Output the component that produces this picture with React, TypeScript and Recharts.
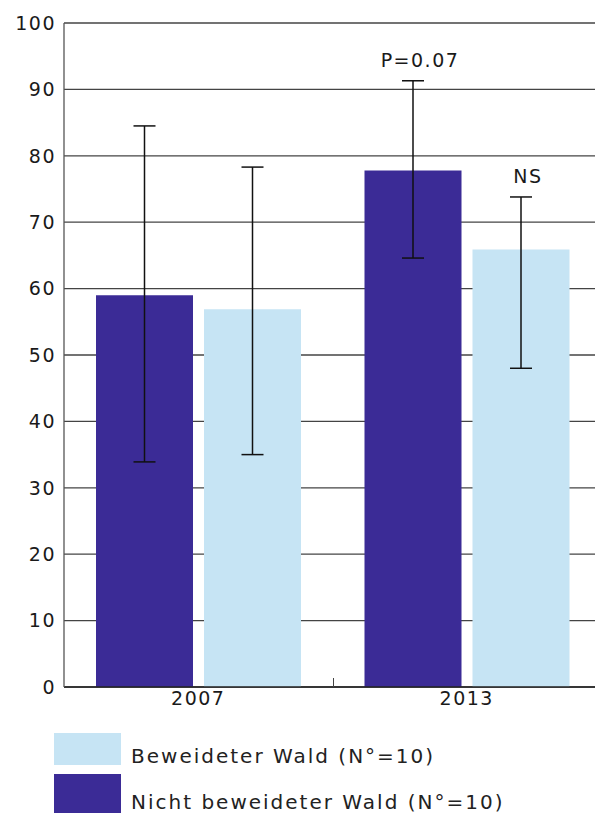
import React from "react";
import { BarChart, Bar, XAxis, YAxis, CartesianGrid, ErrorBar, LabelList } from "recharts";

const years = ["2007", "2013"];

// Nicht beweideter Wald
const unGrazed = [59, 77.8];
const unGrazedLow = [33.9, 64.6];
const unGrazedHigh = [84.5, 91.3];
const unGrazedNote = ["", "P=0.07"];

// Beweideter Wald
const grazed = [56.9, 65.9];
const grazedLow = [35.0, 48.0];
const grazedHigh = [78.3, 73.8];
const grazedNote = ["", "NS"];

const yTicks = [0, 10, 20, 30, 40, 50, 60, 70, 80, 90, 100];

const DARK = "#3b2b96";
const LIGHT = "#c6e4f4";
const FONT = "'DejaVu Sans', sans-serif";

const data = years.map((year, i) => ({
  year,
  unGrazed: unGrazed[i],
  unGrazedErr: [unGrazed[i] - unGrazedLow[i], unGrazedHigh[i] - unGrazed[i]],
  unGrazedNote: unGrazedNote[i],
  grazed: grazed[i],
  grazedErr: [grazed[i] - grazedLow[i], grazedHigh[i] - grazed[i]],
  grazedNote: grazedNote[i],
}));

// annotation above the upper whisker, positioned from the bar's own scale
const noteLabel = (notes: string[], tops: number[], values: number[]) => (props: any) => {
  const { x, y, width, height, index } = props;
  const note = notes[index];
  if (!note) return null;
  const perUnit = height / values[index];
  const topPx = y + height - tops[index] * perUnit;
  return (
    <text
      x={x + width / 2 + 7}
      y={topPx - 14}
      textAnchor="middle"
      fontFamily={FONT}
      fontSize={19}
      letterSpacing={1.5}
      fill="#1a1a1a"
    >
      {note}
    </text>
  );
};

const W = 601;
const H = 717;
const LEFT = 64;
const TOP = 23;
const BOTTOM_AXIS = 30;

const legendText: React.CSSProperties = {
  position: "absolute",
  left: 131,
  fontSize: 20,
  letterSpacing: 2,
  color: "#222",
  lineHeight: "25px",
  whiteSpace: "nowrap",
};

export default function App() {
  const plotBottom = H - BOTTOM_AXIS;
  const midX = LEFT + (W - LEFT) / 2;
  return (
    <div
      style={{
        position: "absolute",
        top: 0,
        left: 0,
        width: 595,
        height: 818,
        overflow: "hidden",
        background: "#fff",
        fontFamily: FONT,
      }}
    >
      <BarChart
        width={W}
        height={H}
        data={data}
        margin={{ top: TOP, right: 0, left: 0, bottom: 0 }}
        barGap={11}
        barCategoryGap={32}
      >
        <CartesianGrid vertical={false} stroke="#444" strokeWidth={1.3} />
        <XAxis
          dataKey="year"
          height={BOTTOM_AXIS}
          tickLine={false}
          tickSize={0}
          tickMargin={5}
          axisLine={{ stroke: "#222", strokeWidth: 1.5 }}
          tick={{ fontFamily: FONT, fontSize: 19, fill: "#1a1a1a", letterSpacing: 1.5 }}
        />
        <YAxis
          width={LEFT}
          domain={[0, 100]}
          ticks={yTicks}
          interval={0}
          tickLine={false}
          axisLine={{ stroke: "#555", strokeWidth: 1.3 }}
          tick={{ fontFamily: FONT, fontSize: 19, fill: "#1a1a1a", letterSpacing: 1.5 }}
        />
        <Bar dataKey="unGrazed" fill={DARK} isAnimationActive={false}>
          <ErrorBar dataKey="unGrazedErr" width={11} stroke="#111" strokeWidth={1.5} />
          <LabelList dataKey="unGrazedNote" content={noteLabel(unGrazedNote, unGrazedHigh, unGrazed)} />
        </Bar>
        <Bar dataKey="grazed" fill={LIGHT} isAnimationActive={false}>
          <ErrorBar dataKey="grazedErr" width={11} stroke="#111" strokeWidth={1.5} />
          <LabelList dataKey="grazedNote" content={noteLabel(grazedNote, grazedHigh, grazed)} />
        </Bar>
      </BarChart>

      {/* tick between the two groups */}
      <div
        style={{
          position: "absolute",
          left: midX,
          top: plotBottom - 9,
          width: 1.2,
          height: 9,
          background: "#444",
        }}
      />

      {/* legend */}
      <div style={{ position: "absolute", left: 54, top: 733, width: 67, height: 32, background: LIGHT }} />
      <div style={{ position: "absolute", left: 54, top: 774, width: 67, height: 39, background: DARK }} />
      <div style={{ ...legendText, top: 744 }}>Beweideter Wald (N°=10)</div>
      <div style={{ ...legendText, top: 790 }}>Nicht beweideter Wald (N°=10)</div>
    </div>
  );
}
